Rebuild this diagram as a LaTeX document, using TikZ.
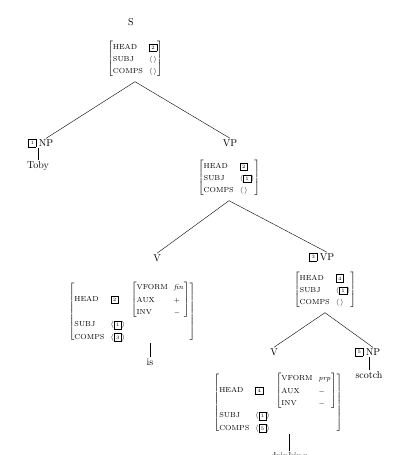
\documentclass[tikz,border=0pt]{standalone}
\usepackage{amsmath, amssymb}
\usepackage{tikz}
\usetikzlibrary{positioning}
\setlength{\fboxsep}{1.9pt}
\setlength{\arraycolsep}{3pt}
\renewcommand{\arraystretch}{1.45}
\newcommand{\tagbx}[1]{\fbox{\fontsize{5}{6}\selectfont #1}}
\newcommand{\avmfont}{\fontsize{7.3}{8.5}\selectfont}

\begin{document}
\begin{tikzpicture}[x=1pt, y=-1pt, every node/.style={font=\normalsize},
    cat/.style={inner sep=1pt},
    avm/.style={inner sep=0pt, font=\avmfont},
    lex/.style={inner sep=1pt}]
    \useasboundingbox (0,0) rectangle (408,455);

    % Top: S
    \node[cat] (catS) at (131,22) {S};
    \node[avm] (avmS) at (135,59) {$\left[\begin{array}{@{}ll@{}}
        \mbox{HEAD} & \tagbx{2}\\
        \mbox{SUBJ} & \langle\,\rangle\\
        \mbox{COMPS} & \langle\,\rangle
      \end{array}\right]$};

    % Subject NP
    \node[cat] (catNP1) at (46,143) {NP};
    \node[inner sep=0pt, left=1pt of catNP1] (tagNP1) {\tagbx{1}};
    \node[lex] (lexToby) at (38,166) {Toby};

    % VP
    \node[cat] (catVP1) at (230,143) {VP};
    \node[avm] (avmVP1) at (229,178) {$\left[\begin{array}{@{}ll@{}}
        \mbox{HEAD} & \tagbx{2}\\
        \mbox{SUBJ} & \langle\tagbx{1}\rangle\\
        \mbox{COMPS} & \langle\,\rangle
      \end{array}\right]$};

    % Auxiliary V
    \node[cat] (catV1) at (157,258) {V};
    \node[avm] (avmV1) at (132,312) {$\left[\begin{array}{@{}lll@{}}
        \mbox{HEAD} & \tagbx{2} & \left[\begin{array}{@{}ll@{}}
          \mbox{VFORM} & \mathit{fin}\\
          \mbox{AUX} & +\\
          \mbox{INV} & -
        \end{array}\right]\\
        \mbox{SUBJ} & \langle\tagbx{1}\rangle & \\
        \mbox{COMPS} & \langle\tagbx{3}\rangle &
      \end{array}\right]$};
    \node[lex] (lexIs) at (150,362) {is};

    % Lower VP
    \node[cat] (catVP2) at (327,257) {VP};
    \node[inner sep=0pt, left=1pt of catVP2] (tagVP2) {\tagbx{3}};
    \node[avm] (avmVP2) at (325,290) {$\left[\begin{array}{@{}ll@{}}
        \mbox{HEAD} & \tagbx{4}\\
        \mbox{SUBJ} & \langle\tagbx{1}\rangle\\
        \mbox{COMPS} & \langle\,\rangle
      \end{array}\right]$};

    % Main V
    \node[cat] (catV2) at (274,352) {V};
    \node[avm] (avmV2) at (278,403) {$\left[\begin{array}{@{}lll@{}}
        \mbox{HEAD} & \tagbx{4} & \left[\begin{array}{@{}ll@{}}
          \mbox{VFORM} & \mathit{prp}\\
          \mbox{AUX} & -\\
          \mbox{INV} & -
        \end{array}\right]\\
        \mbox{SUBJ} & \langle\tagbx{1}\rangle & \\
        \mbox{COMPS} & \langle\tagbx{5}\rangle &
      \end{array}\right]$};
    \node[lex] (lexDrinking) at (289,457) {drinking};

    % Object NP
    \node[cat] (catNP2) at (373,352) {NP};
    \node[inner sep=0pt, left=1pt of catNP2] (tagNP2) {\tagbx{5}};
    \node[lex] (lexScotch) at (369,375) {scotch};

    % Branches
    \draw ([yshift=-4pt]avmS.south) -- (catNP1.north);
    \draw ([yshift=-4pt]avmS.south) -- (catVP1.north);
    \draw ([yshift=-4pt]avmVP1.south) -- (catV1.north);
    \draw ([yshift=-4pt]avmVP1.south) -- (catVP2.north);
    \draw ([yshift=-4pt]avmVP2.south) -- (catV2.north);
    \draw ([yshift=-4pt]avmVP2.south) -- (catNP2.north);

    % Lexical items
    \draw (lexToby.north) -- (lexToby.north |- catNP1.south);
    \draw (lexScotch.north) -- (lexScotch.north |- catNP2.south);
    \draw (lexIs.north) -- (lexIs.north |- avmV1.south);
    \draw (lexDrinking.north) -- (lexDrinking.north |- avmV2.south);
\end{tikzpicture}
\end{document}
